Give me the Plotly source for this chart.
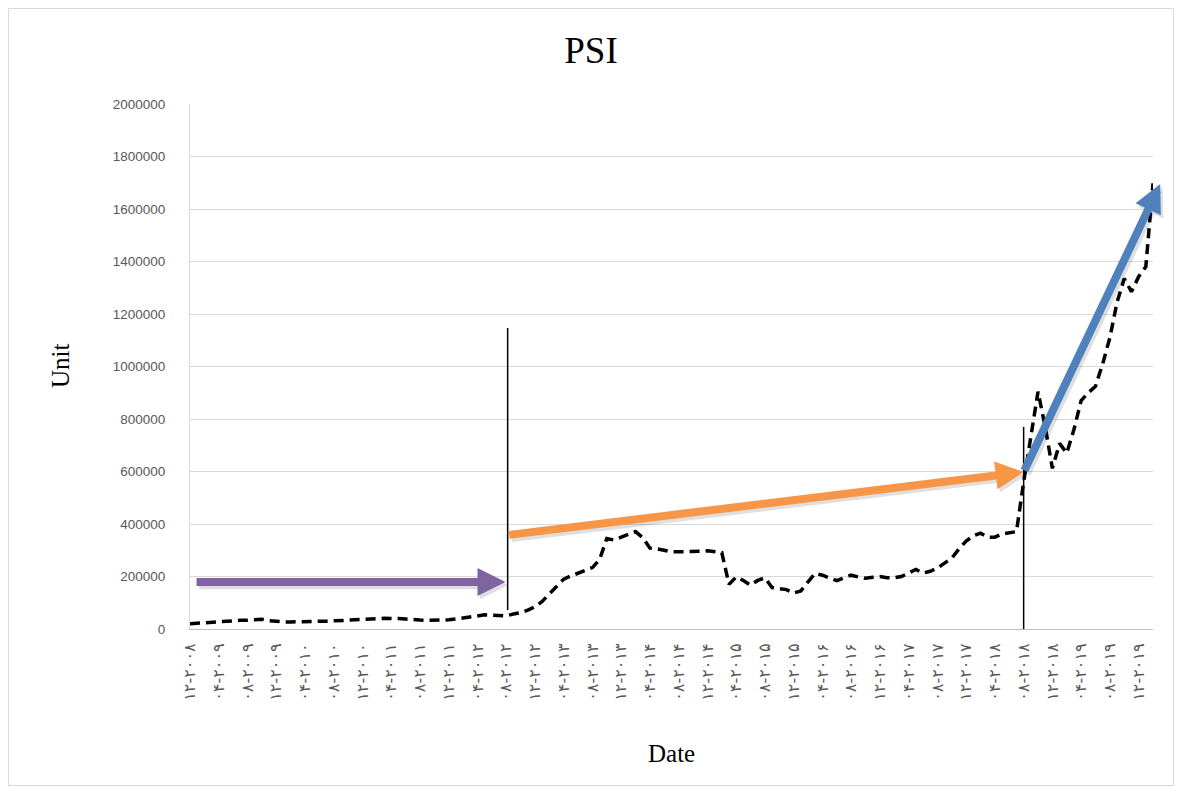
import plotly.graph_objects as go
import pandas as pd

# ---- data -------------------------------------------------------------
start_month = "2008-12"
n_months = 135
psi_values = [
    20000, 22000, 24000, 27000, 30000, 32000, 33000, 33000, 33000, 35000,
    37000, 32000, 28000, 27000, 27000, 27000, 27000, 27000, 28000, 30000,
    31000, 32000, 32000, 33000, 35000, 37000, 39000, 41000, 42000, 40000,
    38000, 35000, 34000, 33000, 33000, 34000, 35000, 38000, 42000, 48000,
    53000, 54000, 53000, 52000, 50000, 57000, 62000, 72000, 84000, 105000,
    133000, 158000, 190000, 202000, 213000, 224000, 234000, 265000, 345000, 339000,
    349000, 361000, 371000, 348000, 308000, 305000, 300000, 294000, 294000, 294000,
    294000, 296000, 298000, 295000, 291000, 170000, 198000, 185000, 167000, 185000,
    195000, 158000, 153000, 150000, 137000, 145000, 180000, 212000, 205000, 195000,
    184000, 195000, 205000, 198000, 193000, 197000, 200000, 195000, 195000, 200000,
    213000, 227000, 213000, 220000, 232000, 250000, 270000, 305000, 335000, 355000,
    365000, 350000, 350000, 362000, 368000, 371000, 560000, 740000, 904000, 770000,
    612000, 707000, 670000, 760000, 870000, 900000, 925000, 1010000, 1110000, 1245000,
    1335000, 1285000, 1342000, 1380000, 1698000,
]

persian = str.maketrans("0123456789", "۰۱۲۳۴۵۶۷۸۹")
months = [p.strftime("%m-%Y").translate(persian)
          for p in pd.period_range(start_month, periods=n_months, freq="M")]
tick_labels = months[:133:4]

# annotation geometry (category index, value)
purple_arrow = dict(x0=0.7, y0=179000, x1=43.9, y1=179000)
orange_arrow = dict(x0=44.2, y0=358000, x1=116.0, y1=598000)
blue_arrow = dict(x0=116.0, y0=598000, x1=135.0, y1=1695000)
vline1 = dict(x=44.2, y0=72000, y1=1147000)
vline2 = dict(x=116.0, y0=-8000, y1=770000)

# ---- figure -----------------------------------------------------------
W, H = 1166, 778
L, R, T, B = 182, 21, 96, 157
PW, PH = W - L - R, H - T - B

def px(xp):
    return (xp - L) / PW

def py(yp):
    return (H - B - yp) / PH

fig = go.Figure()
fig.add_trace(go.Scatter(
    x=months, y=psi_values, mode="lines",
    line=dict(color="black", width=3.5, dash="10px,6px"),
    showlegend=False, hoverinfo="x+y",
))

def arrow(a, color):
    return dict(
        x=a["x1"], y=a["y1"], ax=a["x0"], ay=a["y0"],
        xref="x", yref="y", axref="x", ayref="y",
        text="", showarrow=True, arrowhead=2, arrowsize=0.7,
        arrowwidth=8, arrowcolor=color,
    )

def shadow(a):
    dx, dy = 0.35, -12000
    s = dict(x0=a["x0"] + dx, y0=a["y0"] + dy, x1=a["x1"] + dx, y1=a["y1"] + dy)
    return arrow(s, "rgba(0,0,0,0.12)")

annotations = [
    shadow(purple_arrow), shadow(orange_arrow), shadow(blue_arrow),
    arrow(purple_arrow, "#8064A2"),
    arrow(orange_arrow, "#F79646"),
    arrow(blue_arrow, "#4F81BD"),
    dict(text="Unit", xref="paper", yref="paper", x=px(52), y=py(358),
         showarrow=False, textangle=-90, xanchor="center", yanchor="middle",
         font=dict(family="Liberation Serif", size=25, color="black")),
    dict(text="Date", xref="paper", yref="paper", x=px(663), y=py(745),
         showarrow=False, xanchor="center", yanchor="middle",
         font=dict(family="Liberation Serif", size=25, color="black")),
]

shapes = [
    dict(type="line", xref="x", yref="y", x0=vline1["x"], x1=vline1["x"],
         y0=vline1["y0"], y1=vline1["y1"], line=dict(color="black", width=1.5)),
    dict(type="line", xref="x", yref="y", x0=vline2["x"], x1=vline2["x"],
         y0=vline2["y0"], y1=vline2["y1"], line=dict(color="black", width=1.5)),
    # chart border
    dict(type="rect", xref="paper", yref="paper", x0=px(0.5), x1=px(W - 0.5),
         y0=py(H - 0.5), y1=py(0.5), line=dict(color="#D9D9D9", width=1), layer="below"),
]

fig.update_layout(
    width=W, height=H,
    margin=dict(l=L, r=R, t=T, b=B),
    paper_bgcolor="white", plot_bgcolor="white",
    title=dict(text="PSI", x=0.5, xref="container", xanchor="center",
               y=1 - 42 / H, yref="container", yanchor="middle",
               font=dict(family="Liberation Serif", size=37, color="black")),
    annotations=annotations,
    shapes=shapes,
    showlegend=False,
)

fig.update_xaxes(
    type="category", range=[0, n_months - 1],
    tickmode="array", tickvals=tick_labels, ticktext=tick_labels,
    tickangle=-90, tickfont=dict(family="DejaVu Sans", size=16, color="#595959"),
    showgrid=False, showline=True, linecolor="#BFBFBF", linewidth=1,
    ticks="", ticklabelstandoff=7,
)
fig.update_yaxes(
    range=[0, 2000000], dtick=200000, tickformat="d",
    tickfont=dict(family="Liberation Sans", size=13.5, color="#595959"),
    showgrid=True, gridcolor="#D9D9D9", gridwidth=1,
    showline=True, linecolor="#D9D9D9", linewidth=1,
    zeroline=False, ticks="", ticklabelstandoff=21,
)

fig.write_html("out.html")
